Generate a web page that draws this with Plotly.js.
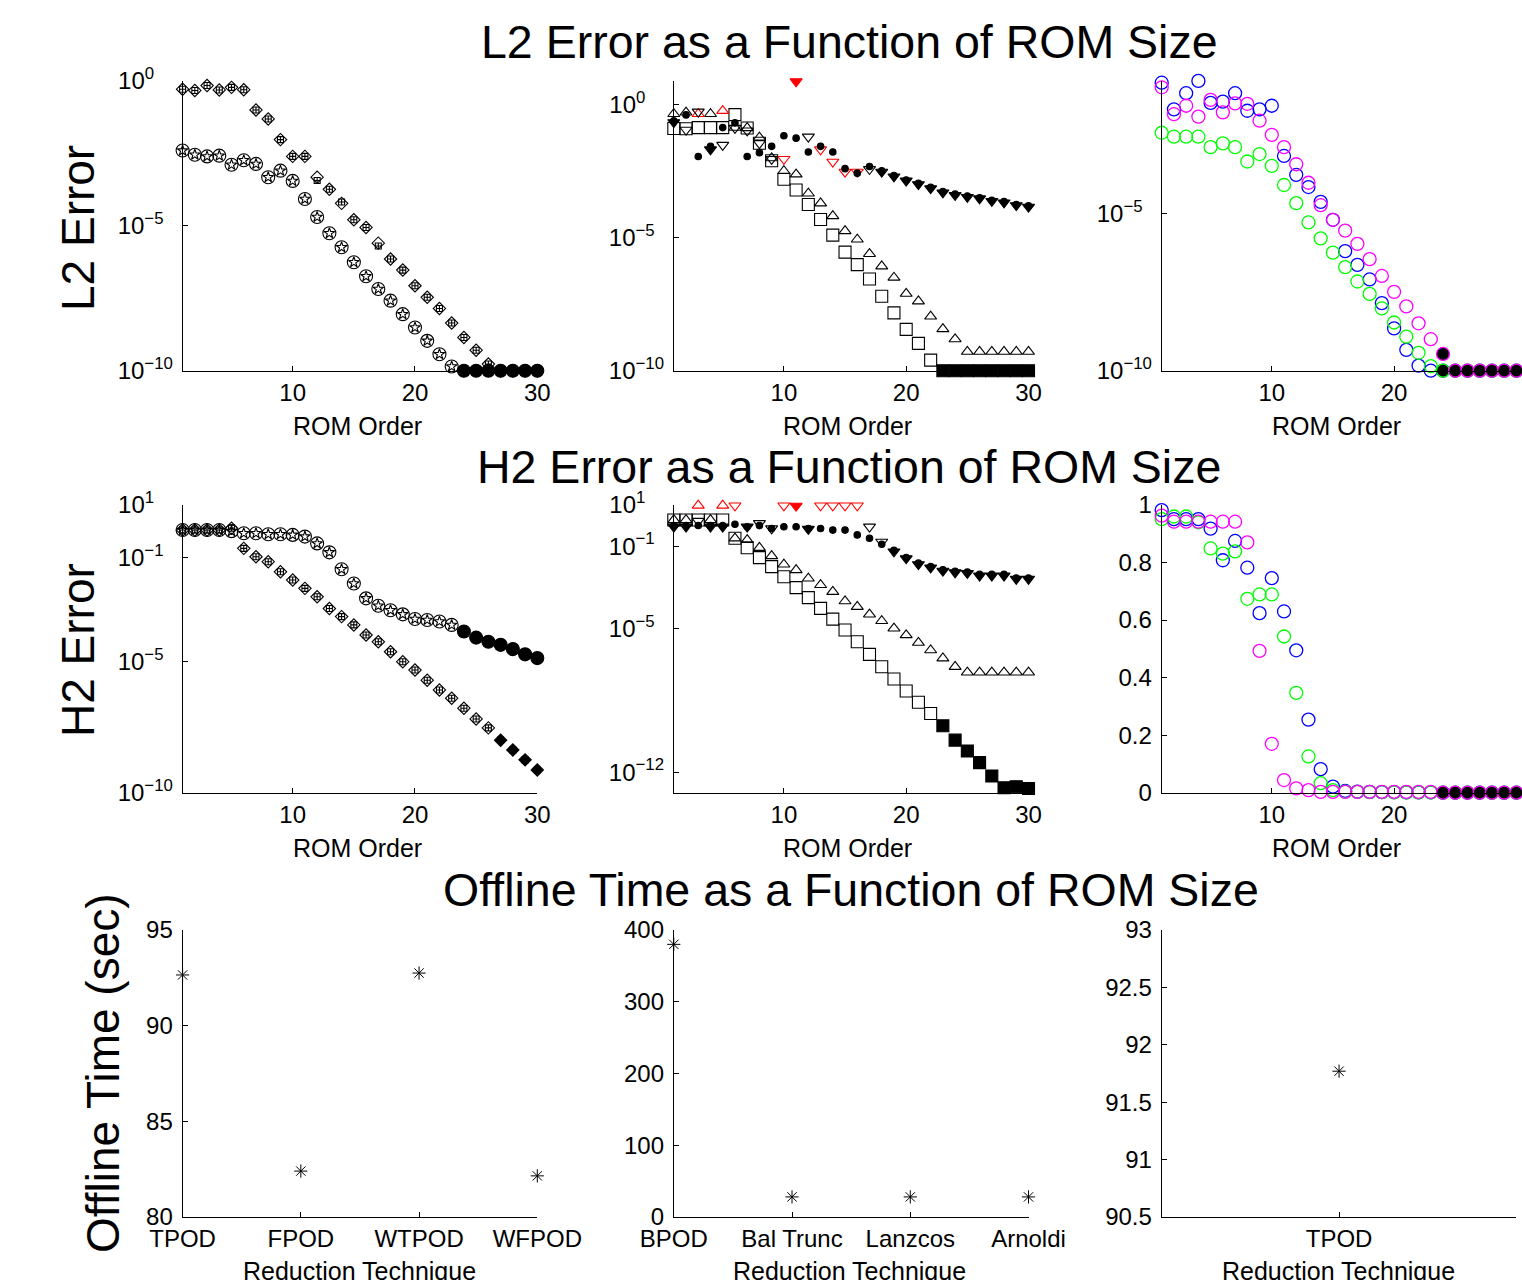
<!DOCTYPE html>
<html>
<head>
<meta charset="utf-8">
<script src="https://cdn.plot.ly/plotly-3.0.1.min.js"></script>
<style>html,body{margin:0;padding:0;background:#fff;}#chart{width:1522px;height:1280px;}</style>
</head>
<body>
<div id="chart"></div>
<script>
// ---------------- DATA ----------------
const romOrder = [1,2,3,4,5,6,7,8,9,10,11,12,13,14,15,16,17,18,19,20,21,22,23,24,25,26,27,28,29,30];

// State codes per point: o = open black, f = filled, r = red open, R = red filled

// Row 1, column 1 : L2 error (TPOD / WTPOD / FPOD / WFPOD)
const l2_TPOD  = [3.9e-3,2.8e-3,2.45e-3,2.6e-3,1.26e-3,1.8e-3,1.35e-3,4.7e-4,7.9e-4,3.5e-4,8.3e-5,2.0e-5,5.5e-6,1.8e-6,5.5e-7,1.8e-7,6.6e-8,2.6e-8,8.9e-9,3.1e-9,1.07e-9,3.7e-10,1.4e-10,1e-10,1e-10,1e-10,1e-10,1e-10,1e-10,1e-10];
const l2_WTPOD = [3.9e-3,2.8e-3,2.45e-3,2.6e-3,1.26e-3,1.8e-3,1.35e-3,4.7e-4,7.9e-4,3.5e-4,8.3e-5,2.0e-5,5.5e-6,1.8e-6,5.5e-7,1.8e-7,6.6e-8,2.6e-8,8.9e-9,3.1e-9,1.07e-9,3.7e-10,1.4e-10,1e-10,1e-10,1e-10,1e-10,1e-10,1e-10,1e-10];
const l2_TPOD_state = 'ooooooooooooooooooooooo' + 'fffffff';
const l2_FPOD  = [0.51,0.46,0.68,0.48,0.59,0.49,0.098,0.048,9.3e-3,2.45e-3,2.45e-3,4.7e-4,1.8e-4,5.9e-5,1.6e-5,8.7e-6,2.5e-6,7.1e-7,2.95e-7,8.5e-8,3.4e-8,1.4e-8,4.4e-9,1.4e-9,5.1e-10,1.7e-10,1e-10,1e-10,1e-10,1e-10];
const l2_WFPOD = [0.51,0.46,0.68,0.48,0.59,0.49,0.098,0.048,9.3e-3,2.45e-3,2.45e-3,3.6e-4,1.8e-4,6.6e-5,1.6e-5,8.7e-6,2.0e-6,7.1e-7,2.95e-7,8.5e-8,3.4e-8,1.4e-8,4.4e-9,1.4e-9,5.1e-10,1.7e-10,1e-10,1e-10,1e-10,1e-10];
const l2_FPOD_state = 'oooooooooooooooooooooooooo' + 'ffff';

// Row 1, column 2 : L2 error (BPOD / Bal Trunc / Lanczos / Arnoldi)
const l2_BPOD = [0.13,0.126,0.14,0.14,0.14,0.43,0.135,0.036,7.9e-3,1.6e-3,6.3e-4,1.8e-4,4.9e-5,1.26e-5,2.9e-6,9.8e-7,2.8e-7,6.3e-8,1.5e-8,3.6e-9,1.07e-9,2.5e-10,1e-10,1e-10,1e-10,1e-10,1e-10,1e-10,1e-10,1e-10];
const l2_BPOD_state = 'oooooooooooooooooooooo' + 'ffffffff';
const l2_BalTrunc = [0.46,0.52,0.46,0.46,0.6,0.14,0.135,0.06,0.01,3.3e-3,2.45e-3,4.7e-4,2.0e-4,6.6e-5,1.8e-5,8.7e-6,2.5e-6,8.5e-7,3.2e-7,7.9e-8,4.1e-8,1.1e-8,3.7e-9,1.55e-9,5.2e-10,5.2e-10,5.2e-10,5.2e-10,5.2e-10,5.2e-10];
const l2_BalTrunc_state = 'ooror' + 'ooooooooooooooooooooooooo';
const l2_Lanczos = [0.22,0.115,0.55,0.021,0.031,0.135,0.107,0.036,9.1e-3,9.1e-3,7.6,0.063,0.021,7.2e-3,3.0e-3,3.0e-3,3.8e-3,3.0e-3,2.0e-3,1.4e-3,1.02e-3,7.2e-4,5.0e-4,4.0e-4,3.4e-4,3.0e-4,2.4e-4,2.1e-4,1.66e-4,1.45e-4];
const l2_Lanczos_state = 'foof' + 'ooooo' + 'rRo' + 'rrrr' + 'o' + 'fffffffffffff';
const l2_Arnoldi = [0.25,0.42,0.0115,0.0275,0.14,0.21,0.0115,0.016,0.0275,0.069,0.056,0.017,0.0275,0.017,4.0e-3,2.7e-3,4.8e-3,3.3e-3,2.2e-3,1.5e-3,1.12e-3,7.9e-4,5.5e-4,4.4e-4,3.7e-4,3.2e-4,2.6e-4,2.3e-4,1.8e-4,1.6e-4];

// Row 1, column 3 : L2 error (TPOD variants, coloured)
const l2_blue    = [0.14,0.02,0.065,0.16,0.032,0.035,0.065,0.018,0.02,0.026,6.6e-4,1.66e-4,6.8e-5,2.3e-5,6.2e-6,6.3e-7,2.3e-7,7.9e-8,1.4e-8,2.2e-9,4.6e-10,1.45e-10,1e-10,1e-10,1e-10,1e-10,1e-10,1e-10,1e-10,1e-10];
const l2_green   = [3.6e-3,2.7e-3,2.7e-3,2.7e-3,1.26e-3,1.66e-3,1.26e-3,4.4e-4,7.6e-4,3.2e-4,7.9e-5,2.1e-5,5.1e-6,1.6e-6,5.6e-7,1.95e-7,6.8e-8,2.75e-8,9.5e-9,3.4e-9,1.2e-9,3.7e-10,1.4e-10,1e-10,1e-10,1e-10,1e-10,1e-10,1e-10,1e-10];
const l2_magenta = [0.1,0.014,0.026,0.0117,0.04,0.016,0.031,0.03,8.7e-3,3.1e-3,1.26e-3,3.6e-4,9.3e-5,1.8e-5,6.2e-6,2.8e-6,1.07e-6,3.5e-7,1.02e-7,3.2e-8,1.1e-8,3.2e-9,1.0e-9,3.4e-10,1e-10,1e-10,1e-10,1e-10,1e-10,1e-10];
const l2_col3_state = 'ooooooooooooooooooooooo' + 'fffffff';

// Row 2, column 1 : H2 error
const h2_TPOD  = [1.1,1.1,1.1,1.1,1.0,0.83,0.83,0.76,0.76,0.72,0.62,0.34,0.155,0.035,0.01,2.7e-3,1.4e-3,9.5e-4,6.6e-4,4.4e-4,4.0e-4,3.5e-4,2.6e-4,1.45e-4,8.5e-5,5.9e-5,4.5e-5,3.1e-5,1.95e-5,1.4e-5];
const h2_WTPOD = [1.1,1.1,1.1,1.1,1.0,0.83,0.83,0.76,0.76,0.72,0.62,0.34,0.155,0.035,0.01,2.7e-3,1.4e-3,9.5e-4,6.6e-4,4.4e-4,4.0e-4,3.5e-4,2.6e-4,1.45e-4,8.5e-5,5.9e-5,4.5e-5,3.1e-5,1.95e-5,1.4e-5];
const h2_TPOD_state = 'ooooooooooooooooooooooo' + 'fffffff';
const h2_FPOD  = [1.1,1.1,1.1,1.1,1.3,0.22,0.105,0.068,0.028,0.0135,6.5e-3,3.1e-3,1.1e-3,5.4e-4,2.6e-4,1.07e-4,5.9e-5,2.45e-5,1.02e-5,4.9e-6,2.0e-6,8.5e-7,4.1e-7,1.7e-7,6.6e-8,3.0e-8,1.02e-8,4.3e-9,1.8e-9,7.4e-10];
const h2_WFPOD = [1.1,1.1,1.1,1.1,1.3,0.22,0.105,0.068,0.028,0.0135,6.5e-3,3.1e-3,1.1e-3,5.4e-4,2.6e-4,1.07e-4,5.9e-5,2.45e-5,1.02e-5,4.9e-6,2.0e-6,8.5e-7,4.1e-7,1.7e-7,6.6e-8,3.0e-8,1.02e-8,4.3e-9,1.8e-9,7.4e-10];
const h2_FPOD_state = 'oooooooooooooooooooooooooo' + 'ffff';

// Row 2, column 2 : H2 error
const h2_BPOD = [1.86,1.86,1.86,1.86,1.86,0.24,0.083,0.0275,0.01,3.2e-3,9.5e-4,3.1e-4,9.3e-5,2.8e-5,8.3e-6,2.2e-6,5.4e-7,1.35e-7,3.4e-8,8.9e-9,2.5e-9,7.2e-10,1.8e-10,3.6e-11,1.07e-11,2.9e-12,6.5e-13,1.74e-13,1.95e-13,1.6e-13];
const h2_BPOD_state = 'oooooooooooooooooooooo' + 'ffffffff';
const h2_BalTrunc = [1.86,1.86,9.5,1.86,9.5,0.24,0.2,0.083,0.033,0.0129,6.9e-3,2.7e-3,1.3e-3,6.0e-4,2.1e-4,1.12e-4,4.8e-5,2.3e-5,1.0e-5,4.7e-6,2.0e-6,8.7e-7,3.5e-7,1.35e-7,7.2e-8,7.2e-8,7.2e-8,7.2e-8,7.2e-8,7.2e-8];
const h2_BalTrunc_state = 'ooror' + 'ooooooooooooooooooooooooo';
const h2_Lanczos = [0.87,0.87,1.66,0.87,0.87,9.3,0.87,1.29,0.72,9.3,9.0,0.68,9.3,9.3,9.3,9.3,0.87,0.16,0.054,0.025,0.0129,8.9e-3,6.2e-3,5.2e-3,4.8e-3,3.6e-3,3.6e-3,3.6e-3,2.5e-3,2.5e-3];
const h2_Lanczos_state = 'ffoffrfoorRfrrrroo' + 'ffffffffffff';
const h2_Arnoldi = [1.0,1.0,1.0,1.0,1.0,1.15,0.87,1.0,0.72,0.87,0.87,0.72,0.72,0.6,0.6,0.35,0.24,0.123,0.063,0.028,0.0148,0.01,7.1e-3,6.0e-3,5.4e-3,4.2e-3,4.2e-3,4.2e-3,2.8e-3,2.8e-3];

// Row 2, column 3 : H2 error (linear)
const h2_blue    = [0.982,0.951,0.951,0.951,0.918,0.808,0.875,0.782,0.624,0.746,0.630,0.495,0.254,0.082,0.021,0.006,0.004,0.003,0.002,0.002,0.001,0.001,0.001,0,0,0,0,0,0,0];
const h2_green   = [0.951,0.96,0.96,0.94,0.849,0.831,0.839,0.674,0.689,0.689,0.543,0.347,0.126,0.033,0.009,0.004,0.003,0.002,0.002,0.001,0.001,0.001,0.001,0,0,0,0,0,0,0];
const h2_magenta = [0.963,0.942,0.942,0.942,0.942,0.942,0.942,0.87,0.493,0.17,0.044,0.015,0.009,0.003,0.003,0.003,0.003,0.003,0.003,0.003,0.003,0.003,0.003,0,0,0,0,0,0,0];
const h2_col3_state = 'ooooooooooooooooooooooo' + 'fffffff';

// Row 3 : offline time
const techPOD   = ['TPOD','FPOD','WTPOD','WFPOD'];
const timePOD   = [92.65, 82.4, 92.75, 82.15];
const techOther = ['BPOD','Bal Trunc','Lanzcos','Arnoldi'];
const timeOther = [380, 28, 28, 28];
const techSingle = ['TPOD'];
const timeSingle = [91.77];

// Log tick labels, padded so that the "10" bases line up on the left
const PADS = {'0': 4, '1': 4, '-1': 2, '-5': 2, '-10': 0, '-12': 0};
const sup = (n) => '10<sup>' + String(n).replace('-', '\u2212') + '\u00a0'.repeat(PADS[String(n)] || 0) + '</sup>';

// ---------------- TRACES ----------------
const FONT = '"Liberation Sans", Arial, Helvetica, sans-serif';
const traces = [];

function addSeries(axIdx, ys, state, sym, size, color, opts) {
  opts = opts || {};
  const groups = {o: [], f: [], r: [], R: []};
  ys.forEach((v, i) => { if (v === null) return; groups[state[i] || 'o'].push(i); });
  Object.keys(groups).forEach(g => {
    const idx = groups[g];
    if (!idx.length) return;
    const red = (g === 'r' || g === 'R');
    const filled = (g === 'f' || g === 'R');
    let mcol = red ? '#ff0000' : color;
    let lcol = mcol;
    if (filled && opts.blackFill) { mcol = '#000000'; lcol = color; }
    traces.push({
      x: idx.map(i => romOrder[i]), y: idx.map(i => ys[i]),
      xaxis: 'x' + axIdx, yaxis: 'y' + axIdx,
      type: 'scatter', mode: 'markers', cliponaxis: false, hoverinfo: 'skip',
      marker: {symbol: filled ? sym : sym + '-open', size: size, color: mcol,
               line: {width: opts.lw || 1.1, color: lcol}}
    });
  });
}

const allOpen = 'o'.repeat(30);
const allFilled = 'f'.repeat(30);

// Row 1 col 1
addSeries(1, l2_FPOD, l2_FPOD_state, 'diamond', 9.5, '#000');
addSeries(1, l2_WFPOD, l2_FPOD_state, 'square-cross', 6, '#000');
addSeries(1, l2_TPOD, l2_TPOD_state, 'circle', 13, '#000');
addSeries(1, l2_WTPOD, l2_TPOD_state, 'star', 8, '#000');

// Row 1 col 2
addSeries(2, l2_BPOD, l2_BPOD_state, 'square', 12, '#000');
addSeries(2, l2_BalTrunc, l2_BalTrunc_state, 'triangle-up', 10.5, '#000');
addSeries(2, l2_Lanczos, l2_Lanczos_state, 'triangle-down', 10.5, '#000');
addSeries(2, l2_Arnoldi, allFilled, 'circle', 6.5, '#000');

// Row 1 col 3
addSeries(3, l2_blue, l2_col3_state, 'circle', 13, '#0000ff', {blackFill: true, lw: 1.3});
addSeries(3, l2_green, l2_col3_state, 'circle', 13, '#00ff00', {blackFill: true, lw: 1.3});
addSeries(3, l2_magenta, l2_col3_state, 'circle', 13, '#ff00ff', {blackFill: true, lw: 1.3});

// Row 2 col 1
addSeries(4, h2_FPOD, h2_FPOD_state, 'diamond', 9.5, '#000');
addSeries(4, h2_WFPOD, h2_FPOD_state, 'square-cross', 6, '#000');
addSeries(4, h2_TPOD, h2_TPOD_state, 'circle', 13, '#000');
addSeries(4, h2_WTPOD, h2_TPOD_state, 'star', 8, '#000');

// Row 2 col 2
addSeries(5, h2_BPOD, h2_BPOD_state, 'square', 12, '#000');
addSeries(5, h2_BalTrunc, h2_BalTrunc_state, 'triangle-up', 10.5, '#000');
addSeries(5, h2_Lanczos, h2_Lanczos_state, 'triangle-down', 10.5, '#000');
addSeries(5, h2_Arnoldi, allFilled, 'circle', 6.5, '#000');

// Row 2 col 3
addSeries(6, h2_blue, h2_col3_state, 'circle', 13, '#0000ff', {blackFill: true, lw: 1.3});
addSeries(6, h2_green, h2_col3_state, 'circle', 13, '#00ff00', {blackFill: true, lw: 1.3});
addSeries(6, h2_magenta, h2_col3_state, 'circle', 13, '#ff00ff', {blackFill: true, lw: 1.3});

// Row 3
[[7, techPOD, timePOD], [8, techOther, timeOther], [9, techSingle, timeSingle]].forEach(([k, xs, ys]) => {
  traces.push({x: xs, y: ys, xaxis: 'x' + k, yaxis: 'y' + k, type: 'scatter', mode: 'markers',
    cliponaxis: false, hoverinfo: 'skip',
    marker: {symbol: 'asterisk-open', size: 11, color: '#000', line: {width: 1, color: '#000'}}});
});

// ---------------- LAYOUT ----------------
const W = 1522, H = 1280;
const colX = [[182.6, 537.3], [673.8, 1028.5], [1161.7, 1516.4]];
const rowY = [[80.7, 370.7], [505, 792.7], [930, 1217]];
const xd = c => [colX[c][0] / W, colX[c][1] / W];
const yd = r => [1 - rowY[r][1] / H, 1 - rowY[r][0] / H];

function baseAxis(extra) {
  return Object.assign({
    showline: true, linecolor: '#000', linewidth: 1, mirror: false,
    ticks: 'inside', ticklen: 5, tickwidth: 1, tickcolor: '#000',
    showgrid: false, zeroline: false, fixedrange: true,
    tickfont: {family: FONT, size: 24, color: '#000'}
  }, extra);
}

const layout = {
  width: W, height: H, margin: {l: 0, r: 0, t: 0, b: 0},
  paper_bgcolor: '#fff', plot_bgcolor: 'rgba(0,0,0,0)', showlegend: false,
  font: {family: FONT, color: '#000'},
  annotations: []
};

const romTicks = {tickmode: 'array', tickvals: [10, 20, 30], ticktext: ['10', '20', '30'], range: [1, 30]};
const yLog1 = [
  {tickvals: [1e-10, 1e-5, 1], ticktext: [sup(-10), sup(-5), sup(0)], range: [-10, 0]},
  {tickvals: [1e-10, 1e-5, 1], ticktext: [sup(-10), sup(-5), sup(0)], range: [-10, 0.91]},
  {tickvals: [1e-10, 1e-5], ticktext: [sup(-10), sup(-5)], range: [-10, -0.79]}
];
const yLog2 = [
  {tickvals: [1e-10, 1e-5, 1e-1, 10], ticktext: [sup(-10), sup(-5), sup(-1), sup(1)], range: [-10, 1]},
  {tickvals: [1e-12, 1e-5, 1e-1, 10], ticktext: [sup(-12), sup(-5), sup(-1), sup(1)], range: [-13, 1]}
];
const YSTAND = 4;

for (let c = 0; c < 3; c++) {
  let k = 1 + c;
  layout['xaxis' + k] = baseAxis(Object.assign({domain: xd(c), anchor: 'y' + k}, romTicks));
  layout['yaxis' + k] = baseAxis(Object.assign({domain: yd(0), anchor: 'x' + k, type: 'log', tickmode: 'array', ticklabelstandoff: YSTAND}, yLog1[c]));
  k = 4 + c;
  layout['xaxis' + k] = baseAxis(Object.assign({domain: xd(c), anchor: 'y' + k}, romTicks));
  if (c < 2) {
    layout['yaxis' + k] = baseAxis(Object.assign({domain: yd(1), anchor: 'x' + k, type: 'log', tickmode: 'array', ticklabelstandoff: YSTAND}, yLog2[c]));
  } else {
    layout['yaxis' + k] = baseAxis({domain: yd(1), anchor: 'x' + k, range: [0, 1], tickmode: 'array', ticklabelstandoff: YSTAND,
      tickvals: [0, 0.2, 0.4, 0.6, 0.8, 1], ticktext: ['0', '0.2', '0.4', '0.6', '0.8', '1']});
  }
}
layout.xaxis7 = baseAxis({domain: xd(0), anchor: 'y7', type: 'category', range: [0, 3]});
layout.yaxis7 = baseAxis({domain: yd(2), anchor: 'x7', range: [80, 95], tickmode: 'array', ticklabelstandoff: YSTAND, tickvals: [80, 85, 90, 95], ticktext: ['80', '85', '90', '95']});
layout.xaxis8 = baseAxis({domain: xd(1), anchor: 'y8', type: 'category', range: [0, 3]});
layout.yaxis8 = baseAxis({domain: yd(2), anchor: 'x8', range: [0, 400], tickmode: 'array', ticklabelstandoff: YSTAND, tickvals: [0, 100, 200, 300, 400], ticktext: ['0', '100', '200', '300', '400']});
layout.xaxis9 = baseAxis({domain: xd(2), anchor: 'y9', type: 'category', range: [-1, 1]});
layout.yaxis9 = baseAxis({domain: yd(2), anchor: 'x9', range: [90.5, 93], tickmode: 'array', ticklabelstandoff: YSTAND, tickvals: [90.5, 91, 91.5, 92, 92.5, 93], ticktext: ['90.5', '91', '91.5', '92', '92.5', '93']});

function ann(text, px, py, size, angle) {
  layout.annotations.push({text: text, x: px / W, y: 1 - py / H, xref: 'paper', yref: 'paper',
    xanchor: 'center', yanchor: 'middle', showarrow: false, textangle: angle || 0,
    font: {family: FONT, size: size, color: '#000'}});
}
ann('L2 Error as a Function of ROM Size', 849, 42, 46.5);
ann('H2 Error as a Function of ROM Size', 849, 467, 46.5);
ann('Offline Time as a Function of ROM Size', 851, 890, 46.5);
ann('L2 Error', 78, 228, 46, -90);
ann('H2 Error', 78, 650, 46, -90);
ann('Offline Time (sec)', 103, 1073, 46, -90);
[357, 847, 1336].forEach(x => { ann('ROM Order', x, 426, 25); ann('ROM Order', x, 848, 25); });
[359, 849, 1338].forEach(x => ann('Reduction Technique', x, 1271, 25));

Plotly.newPlot('chart', traces, layout, {displayModeBar: false, staticPlot: true});
</script>
</body>
</html>
